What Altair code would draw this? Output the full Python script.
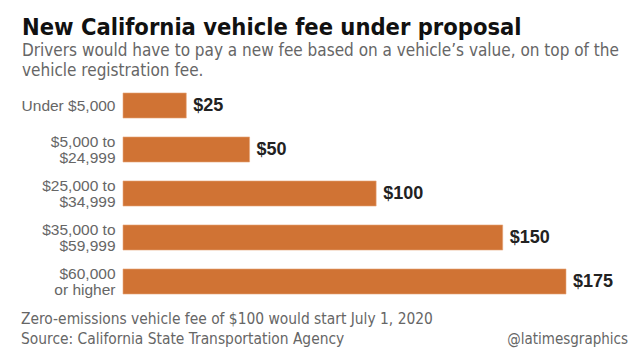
import altair as alt
import pandas as pd

categories = ["Under $5,000", "$5,000 to\n$24,999", "$25,000 to\n$34,999",
              "$35,000 to\n$59,999", "$60,000\nor higher"]
fees = [25, 50, 100, 150, 175]

title_text = "New California vehicle fee under proposal"
subtitle_lines = ["Drivers would have to pay a new fee based on a vehicle\u2019s value, on top of the",
                  "vehicle registration fee."]
footer_lines = ["Zero-emissions vehicle fee of $100 would start July 1, 2020",
                "Source: California State Transportation Agency"]
credit = "@latimesgraphics"

NARROW = "Liberation Sans Narrow, DejaVu Sans Condensed, Arial Narrow, sans-serif"
SANS = "Liberation Sans, Arial, sans-serif"

df = pd.DataFrame({"cat": categories, "fee": fees})

y_enc = alt.Y("cat:N", sort=categories,
              scale=alt.Scale(paddingInner=0.43, paddingOuter=0.215),
              axis=alt.Axis(title=None, ticks=False, domain=False, grid=False,
                            labelExpr="split(datum.label, '\\n')",
                            labelFont=SANS, labelFontSize=15.5, labelColor="#666666",
                            labelPadding=8, labelLineHeight=16, labelAlign="right",
                            labelBaseline="middle",
                            labelOffset={"condition": {"test": "indexof(datum.label, '\\n') >= 0",
                                                       "value": -8}, "value": 0}))
x_enc = alt.X("fee:Q", scale=alt.Scale(domain=[0, 175], nice=False), axis=None)

bars = alt.Chart(df).mark_bar(color="#D07334", stroke="#E8A77C", strokeWidth=0.6).encode(x=x_enc, y=y_enc)

labels = alt.Chart(df).transform_calculate(
    lab="'$' + datum.fee"
).mark_text(align="left", baseline="middle", dx=7, font=SANS, fontSize=18,
            fontWeight="bold", color="#222222").encode(x=x_enc, y=y_enc, text="lab:N")

footer1 = alt.Chart(pd.DataFrame({"t": [footer_lines[0]]})).mark_text(
    align="left", baseline="alphabetic", font=NARROW, fontSize=15.4, color="#666666"
).encode(text="t:N", x=alt.value(-102), y=alt.value(240.5))
footer2 = alt.Chart(pd.DataFrame({"t": [footer_lines[1]]})).mark_text(
    align="left", baseline="alphabetic", font=NARROW, fontSize=15.4, color="#666666"
).encode(text="t:N", x=alt.value(-102), y=alt.value(260.5))
credit_mark = alt.Chart(pd.DataFrame({"t": [credit]})).mark_text(
    align="right", baseline="alphabetic", font=NARROW, fontSize=15, color="#666666"
).encode(text="t:N", x=alt.value(505), y=alt.value(260.5))

chart = alt.layer(bars, labels, footer1, footer2, credit_mark).properties(
    width=443, height=220,
    padding={"left": 115, "top": 75.5, "right": 66, "bottom": 46.5},
    autosize=alt.AutoSizeParams(type="none"),
    title=alt.TitleParams(
        text=title_text, subtitle=subtitle_lines, anchor="start", frame="group",
        font=NARROW, fontSize=23.5, fontWeight="bold", color="#111111",
        subtitleFont=NARROW, subtitleFontSize=17, subtitleColor="#666666",
        subtitleLineHeight=19.5, subtitlePadding=4, dx=-101, offset=5
    )
).configure_view(stroke=None)

chart.save("out.html", embed_options={"renderer": "svg", "actions": False})
